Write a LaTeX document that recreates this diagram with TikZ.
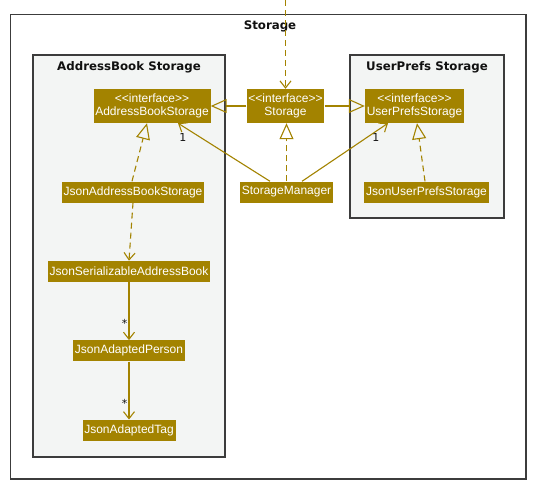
\documentclass[tikz,border=0pt]{standalone}
\usepackage{fontspec}
\usepackage{xcolor}
\usetikzlibrary{positioning, arrows.meta, calc}
\newfontfamily\clsfont{Liberation Sans}
\newfontfamily\pkgfont{DejaVu Sans}
\definecolor{storage}{HTML}{A38300}
\definecolor{pkgfill}{HTML}{F3F5F4}
\definecolor{pkgline}{HTML}{3C3C3C}
\definecolor{textmain}{HTML}{111111}

\begin{document}
\begin{tikzpicture}[x=1pt, y=-1pt,
    node distance=58pt,
    cls/.style={rectangle, fill=storage, text=white, minimum height=21pt,
                inner xsep=1.8pt, inner ysep=2pt, align=center,
                font=\clsfont\fontsize{12}{13}\selectfont},
    iface/.style={cls, minimum height=34pt},
    pkg/.style={draw=pkgline, line width=1.5pt, fill=pkgfill},
    pkgtitle/.style={text=textmain, font=\pkgfont\bfseries\fontsize{11.8}{13}\selectfont},
    mult/.style={text=textmain, inner sep=1pt, font=\pkgfont\fontsize{11}{12}\selectfont},
    link/.style={draw=storage, line width=1.1pt},
    assoc/.style={link, -{Straight Barb[length=7pt, width=11pt]}},
    dep/.style={assoc, dash pattern=on 6pt off 4pt},
    gen/.style={link, -{Triangle[open, length=16pt, width=14pt]}},
    real/.style={gen, dash pattern=on 6pt off 4pt}
  ]
    \useasboundingbox (0,0) rectangle (551,491);

    \draw[pkg, fill=white] (10.5,14.5) rectangle (526,479);
    \node[pkgtitle] (storagetitle) at (270,26.5) {Storage};
    \draw[pkg] (33,55) rectangle (225,457);
    \node[pkgtitle] (abtitle) at (129,67) {AddressBook Storage};
    \draw[pkg] (350,55) rectangle (504,218);
    \node[pkgtitle] (uptitle) at (427,67) {UserPrefs Storage};

    \node[iface] (store) at (285.5,106) {<<interface>>\\Storage};
    \node[iface] (abs) at (152,106) {<<interface>>\\AddressBookStorage};
    \node[iface] (ups) at (414.5,106) {<<interface>>\\UserPrefsStorage};
    \node[cls] (jabs) at (133,192) {JsonAddressBookStorage};
    \node[cls] (sm) at (286.5,192) {StorageManager};
    \node[cls] (jups) at (426.5,192) {JsonUserPrefsStorage};
    \node[cls, below=of jabs, xshift=-4pt] (jsab) {JsonSerializableAddressBook};
    \node[cls, below=of jsab] (person) {JsonAdaptedPerson};
    \node[cls, below=of person] (tag) {JsonAdaptedTag};
    \coordinate (entry) at (285.5,0);

    \draw[dep] (entry) -- (store.north);
    \draw[gen] (store) -- (abs);
    \draw[gen] (store) -- (ups);
    \draw[real] (sm.north) -- (sm.north |- store.south);
    \draw[real] ([xshift=-1pt]jabs.north) -- ([xshift=-5pt]abs.south);
    \draw[real] ([xshift=-1.5pt]jups.north) -- ([xshift=2.5pt]ups.south);
    \draw[assoc] ([xshift=-16.5pt]sm.north) -- node[mult, pos=0.86, below left=1pt and 3pt]{1} ([xshift=26pt]abs.south);
    \draw[assoc] ([xshift=15.5pt]sm.north) -- node[mult, pos=0.86, below=1pt]{1} ([xshift=-26.5pt]ups.south);
    \draw[dep] (jabs.south) -- (jsab.north);
    \draw[assoc] (jsab) -- node[mult, pos=0.72, left=0pt]{*} (person);
    \draw[assoc] (person) -- node[mult, pos=0.72, left=0pt]{*} (tag);
  \end{tikzpicture}
\end{document}
